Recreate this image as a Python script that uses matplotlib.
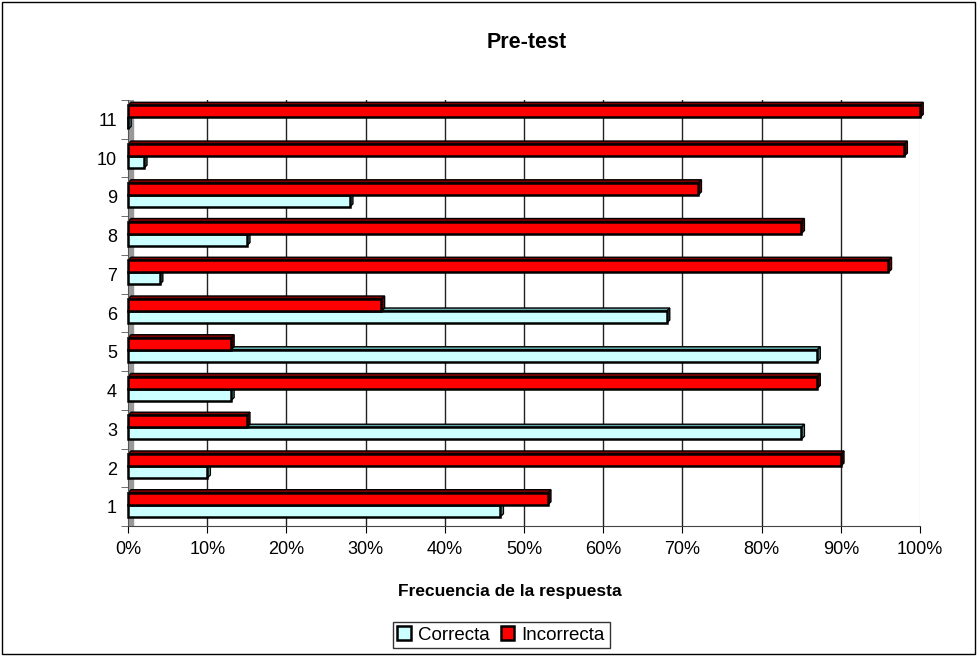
import numpy as np
import matplotlib.pyplot as plt
from matplotlib.patches import Rectangle, Polygon

plt.rcParams['font.family'] = ['Liberation Sans', 'DejaVu Sans']

# datos (fraccion de respuestas)
preguntas = ['1', '2', '3', '4', '5', '6', '7', '8', '9', '10', '11']
correcta = [0.47, 0.10, 0.85, 0.13, 0.87, 0.68, 0.04, 0.15, 0.28, 0.02, 0.00]
incorrecta = [0.53, 0.90, 0.15, 0.87, 0.13, 0.32, 0.96, 0.85, 0.72, 0.98, 1.00]
ticks_x = [0, 0.1, 0.2, 0.3, 0.4, 0.5, 0.6, 0.7, 0.8, 0.9, 1.0]

col_ok = '#CCFFFF'
col_bad = '#FF0000'

fig = plt.figure(figsize=(9.77, 6.56), dpi=100)
ax = fig.add_axes([0.131, 0.198, 0.8107, 0.6496])

y = np.arange(1, len(preguntas) + 1)
h = 0.31

# pared gris a la izquierda (efecto 3D de Excel)
ax.axvspan(0, 0.006, color='#999999', zorder=1)

for x in ticks_x[1:]:
    ax.axvline(x, color='#222222' if x < 0.95 else '#e6e6e6', lw=1, zorder=0)

b1 = ax.barh(y - h / 2 + 0.05, correcta, height=h, color=col_ok, edgecolor='black',
             lw=1.8, zorder=3, label='Correcta', clip_on=False)
b2 = ax.barh(y + h / 2 + 0.05, incorrecta, height=h, color=col_bad, edgecolor='black',
             lw=1.8, zorder=3, label='Incorrecta', clip_on=False)

# pequeno lado en profundidad de cada barra
dx, dy = 0.004, 0.08
for bars, dark in ((b1, '#66aaaa'), (b2, '#800000')):
    for r in bars:
        x0, y0, w, hh = r.get_x(), r.get_y(), r.get_width(), r.get_height()
        side = Polygon([(x0 + w, y0), (x0 + w + dx, y0 + dy), (x0 + w + dx, y0 + hh + dy),
                        (x0 + w, y0 + hh)], closed=True, facecolor=dark,
                       edgecolor='black', lw=1, zorder=2, clip_on=False)
        top = Polygon([(x0, y0 + hh), (x0 + dx, y0 + hh + dy), (x0 + w + dx, y0 + hh + dy),
                       (x0 + w, y0 + hh)], closed=True, facecolor=dark,
                      edgecolor='black', lw=1, zorder=2, clip_on=False)
        ax.add_patch(side)
        ax.add_patch(top)

ax.set_xlim(0, 1.0)
ax.set_ylim(0.5, len(preguntas) + 0.5)
ax.set_xticks(ticks_x)
ax.set_xticklabels([f'{int(round(t * 100))}%' for t in ticks_x], fontsize=13)
ax.set_yticks(y)
ax.set_yticklabels(preguntas, fontsize=13)
ax.set_yticks(np.arange(0.5, len(preguntas) + 1), minor=True)
ax.tick_params(axis='y', which='major', length=0, pad=8)
ax.tick_params(axis='y', which='minor', length=5, color='#555555')
ax.tick_params(axis='x', length=5, color='black', pad=6)

for s in ('top', 'right'):
    ax.spines[s].set_visible(False)
ax.spines['left'].set_color('#555555')
ax.spines['bottom'].set_color('#444444')

ax.set_xlabel('Frecuencia de la respuesta', fontsize=12.5, fontweight='bold')
ax.xaxis.set_label_coords(0.482, -0.137)
fig.text(0.539, 0.935, 'Pre-test', ha='center', va='center', fontsize=15.5, fontweight='bold')

leg = fig.legend(handles=[b1, b2], labels=['Correcta', 'Incorrecta'], loc='center',
                 bbox_to_anchor=(0.513, 0.032), ncol=2, fontsize=13.5, frameon=True,
                 fancybox=False, edgecolor='black', handlelength=0.7, handleheight=0.7,
                 handletextpad=0.4, columnspacing=0.6, borderpad=0.25)
leg.get_frame().set_linewidth(1)

fig.patches.append(Rectangle((0.002, 0.003), 0.996, 0.994, transform=fig.transFigure,
                             fill=False, edgecolor='black', lw=1))

fig.savefig('out.png', dpi=100)
